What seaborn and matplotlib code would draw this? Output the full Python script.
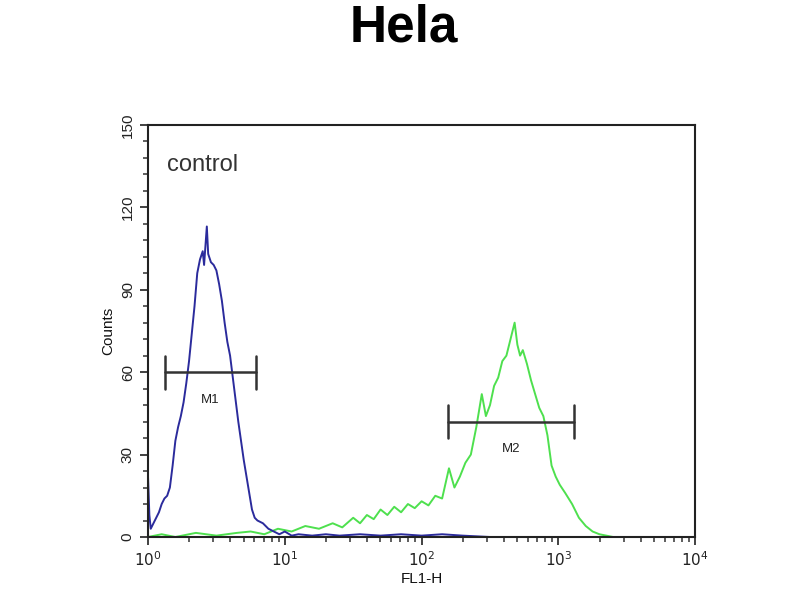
import numpy as np
import pandas as pd
import matplotlib
matplotlib.use("Agg")
import matplotlib.pyplot as plt
import seaborn as sns
from matplotlib.ticker import MultipleLocator, LogLocator, FixedLocator

# =============================
# Data
# =============================
# log10(FL1-H) positions and counts for the control (blue) histogram
blue_log = [0.00, 0.01, 0.02, 0.04, 0.06, 0.08, 0.10, 0.12, 0.14, 0.16,
            0.18, 0.20, 0.22, 0.24, 0.26, 0.28, 0.30, 0.32, 0.34, 0.36,
            0.38, 0.40, 0.41, 0.42, 0.43, 0.44, 0.46, 0.48, 0.50, 0.52,
            0.54, 0.56, 0.58, 0.60, 0.62, 0.64, 0.66, 0.68, 0.70, 0.72,
            0.74, 0.76, 0.78, 0.80, 0.84, 0.88, 0.92, 0.96, 1.00, 1.05,
            1.10, 1.20, 1.30, 1.40, 1.55, 1.70, 1.85, 2.00, 2.15, 2.30,
            2.50, 3.00, 3.50, 4.00]
blue_counts = [22, 8, 3, 5, 7, 9, 12, 14, 15, 18,
               26, 35, 40, 44, 49, 56, 64, 74, 84, 96,
               101, 104, 99, 106, 113, 103, 100, 99, 97, 92,
               86, 78, 71, 66, 58, 50, 42, 35, 28, 22,
               16, 10, 7, 6, 5, 3, 2, 1, 2, 0.5,
               1, 0.5, 1, 0.5, 1, 0.5, 1, 0.5, 1, 0.5,
               0, 0, 0, 0]

# log10(FL1-H) positions and counts for the sample (green) histogram
green_log = [0.00, 0.10, 0.20, 0.35, 0.50, 0.65, 0.75, 0.85, 0.95, 1.05,
             1.15, 1.25, 1.35, 1.42, 1.50, 1.55, 1.60, 1.65, 1.70, 1.75,
             1.80, 1.85, 1.90, 1.95, 2.00, 2.05, 2.10, 2.15, 2.20, 2.24,
             2.28, 2.32, 2.36, 2.40, 2.44, 2.47, 2.50, 2.53, 2.56, 2.59,
             2.62, 2.65, 2.68, 2.70, 2.72, 2.74, 2.77, 2.80, 2.83, 2.86,
             2.89, 2.92, 2.95, 2.98, 3.01, 3.05, 3.10, 3.15, 3.20, 3.25,
             3.30, 3.40, 4.00]
green_counts = [0, 1, 0, 1.5, 0.5, 1.5, 2, 1, 3, 2,
                4, 3, 5, 3.5, 7, 5, 8, 6.5, 10, 8,
                11, 9, 12, 10.5, 13, 11.5, 15, 14, 25, 18,
                22, 27, 30, 40, 52, 44, 48, 55, 58, 64,
                66, 72, 78, 70, 66, 68, 63, 57, 52, 47,
                44, 37, 26, 22, 19, 16, 12, 7, 4, 2,
                1, 0, 0]

# marker gates: name, start, end, level
gate_names = ["M1", "M2"]
gate_start = [1.33, 156]
gate_end = [6.2, 1300]
gate_level = [60, 42]

y_ticks = [0, 30, 60, 90, 120, 150]
x_ticks = [1, 10, 100, 1000, 10000]
x_tick_labels = ["$10^0$", "$10^1$", "$10^2$", "$10^3$", "$10^4$"]

blue_df = pd.DataFrame({"FL1-H": 10 ** np.array(blue_log), "Counts": blue_counts})
green_df = pd.DataFrame({"FL1-H": 10 ** np.array(green_log), "Counts": green_counts})

# =============================
# Plot
# =============================
sns.set_theme(style="ticks")
plt.rcParams["font.family"] = ["Liberation Sans", "DejaVu Sans"]
plt.rcParams["text.color"] = "#111111"
plt.rcParams["xtick.color"] = "#222222"
plt.rcParams["ytick.color"] = "#222222"
plt.rcParams["axes.labelcolor"] = "#111111"

fig = plt.figure(figsize=(8, 6), dpi=100)
ax = fig.add_axes([0.185, 0.105, 0.684, 0.687])

sns.lineplot(data=green_df, x="FL1-H", y="Counts", ax=ax, color="#4ee04e",
             linewidth=1.4)
sns.lineplot(data=blue_df, x="FL1-H", y="Counts", ax=ax, color="#2b2b9c",
             linewidth=1.4)

# gates
for name, x0, x1, lvl in zip(gate_names, gate_start, gate_end, gate_level):
    ax.plot([x0, x1], [lvl, lvl], color="#333333", lw=1.8)
    ax.plot([x0, x0], [lvl - 6, lvl + 6], color="#333333", lw=1.8)
    ax.plot([x1, x1], [lvl - 6, lvl + 6], color="#333333", lw=1.8)
    ax.text(np.sqrt(x0 * x1), lvl - 10, name, ha="center", va="center",
            fontsize=9.5, color="#222222")

ax.text(1.38, 135.5, "control", fontsize=17, color="#333333", va="center")

ax.set_xscale("log")
ax.set_xlim(1, 10000)
ax.set_ylim(0, 150)
ax.xaxis.set_major_locator(FixedLocator(x_ticks))
ax.set_xticklabels(x_tick_labels, fontsize=11)
ax.xaxis.set_minor_locator(LogLocator(base=10, subs=np.arange(2, 10)))
ax.yaxis.set_major_locator(FixedLocator(y_ticks))
ax.yaxis.set_minor_locator(MultipleLocator(6))
ax.set_yticklabels([str(t) for t in y_ticks], rotation=90, va="center", fontsize=11)

ax.tick_params(which="major", length=6, width=1.3, color="#333333")
ax.tick_params(which="minor", length=3.5, width=1.1, color="#333333")
for sp in ax.spines.values():
    sp.set_linewidth(1.5)
    sp.set_color("#222222")

ax.set_xlabel("FL1-H", fontsize=11, labelpad=2)
ax.set_ylabel("Counts", fontsize=11, labelpad=4)

fig.suptitle("Hela", fontsize=37, fontweight="bold", x=0.505, y=0.995,
             color="black")

plt.savefig("out.png", dpi=100)
